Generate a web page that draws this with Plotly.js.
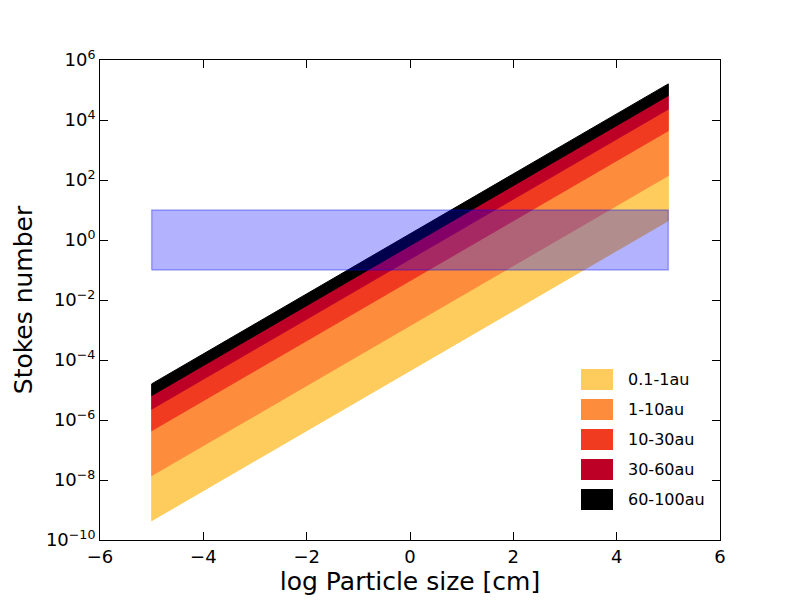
<!DOCTYPE html>
<html>
<head>
<meta charset="utf-8">
<script src="https://cdn.plot.ly/plotly-3.0.1.min.js"></script>
<style>
  html, body { margin: 0; padding: 0; background: #fff; }
  #chart { width: 800px; height: 600px; }
</style>
</head>
<body>
<div id="chart"></div>
<script>
// Particle size range (log10 cm) covered by each band
const sizeRange = [-5, 5];

// Stokes number band edges, read at the left (x=-5) and right (x=5) ends
const edgesLeft = [4.4e-10, 1.4e-8, 4.4e-7, 2.3e-6, 6.5e-6, 1.6e-5];
const edgesRight = [4.4e0, 1.4e2, 4.4e3, 2.3e4, 6.5e4, 1.6e5];

const bandNames = ['0.1-1au', '1-10au', '10-30au', '30-60au', '60-100au'];
const bandColors = ['#FECC5C', '#FD8D3C', '#F03B20', '#BD0026', '#000000'];

// Highlighted Stokes range
const stokesBox = [0.1, 10];

const yTickVals = [1e-10, 1e-8, 1e-6, 1e-4, 1e-2, 1e0, 1e2, 1e4, 1e6];
const yTickText = ['10<sup>\u221210</sup>', '10<sup>\u22128</sup>', '10<sup>\u22126</sup>',
  '10<sup>\u22124</sup>', '10<sup>\u22122</sup>', '10<sup>0</sup>', '10<sup>2</sup>',
  '10<sup>4</sup>', '10<sup>6</sup>'];

const FONT = 'DejaVu Sans, sans-serif';

const data = [];

// One filled polygon per radial band
bandNames.forEach((name, i) => {
  data.push({
    x: [sizeRange[0], sizeRange[1], sizeRange[1], sizeRange[0], sizeRange[0]],
    y: [edgesLeft[i], edgesRight[i], edgesRight[i + 1], edgesLeft[i + 1], edgesLeft[i]],
    type: 'scatter',
    mode: 'lines',
    fill: 'toself',
    fillcolor: bandColors[i],
    line: { color: bandColors[i], width: 1 },
    name: name,
    showlegend: false,
    hoverinfo: 'skip',
  });
});

// Translucent blue box over everything
data.push({
  x: [sizeRange[0], sizeRange[1], sizeRange[1], sizeRange[0], sizeRange[0]],
  y: [stokesBox[0], stokesBox[0], stokesBox[1], stokesBox[1], stokesBox[0]],
  type: 'scatter',
  mode: 'lines',
  fill: 'toself',
  fillcolor: 'rgba(0,0,255,0.3)',
  line: { color: 'rgba(0,0,255,0.3)', width: 1.5 },
  showlegend: false,
  hoverinfo: 'skip',
});

// Legend drawn by hand so the swatches match the large matplotlib patches
const shapes = [];
const annotations = [];
const legX0 = (581 - 100) / 620, legX1 = (613 - 100) / 620;
bandNames.forEach((name, i) => {
  const top = 369 + i * 30;
  shapes.push({
    type: 'rect', xref: 'paper', yref: 'paper',
    x0: legX0, x1: legX1,
    y0: (540 - top - 21) / 480, y1: (540 - top) / 480,
    fillcolor: bandColors[i], line: { width: 0 },
  });
  annotations.push({
    xref: 'paper', yref: 'paper',
    x: (626 - 100) / 620, y: (540 - top - 10.5) / 480,
    xanchor: 'left', yanchor: 'middle',
    text: name, showarrow: false,
    font: { family: FONT, size: 16, color: '#000' },
  });
});

const layout = {
  width: 800,
  height: 600,
  margin: { l: 100, r: 80, t: 60, b: 60 },
  paper_bgcolor: '#fff',
  plot_bgcolor: '#fff',
  showlegend: false,
  font: { family: FONT, color: '#000' },
  xaxis: {
    range: [-6, 6],
    dtick: 2,
    tick0: 0,
    showgrid: false,
    zeroline: false,
    showline: true,
    linecolor: '#000',
    linewidth: 1,
    mirror: 'ticks',
    ticks: 'inside',
    ticklen: 8,
    tickcolor: '#000',
    tickfont: { family: FONT, size: 18 },
    title: { text: 'log Particle size [cm]', font: { family: FONT, size: 25 }, standoff: 6 },
  },
  yaxis: {
    type: 'log',
    range: [-10, 6],
    tickvals: yTickVals,
    ticktext: yTickText,
    showgrid: false,
    zeroline: false,
    showline: true,
    linecolor: '#000',
    linewidth: 1,
    mirror: 'ticks',
    ticks: 'inside',
    ticklen: 8,
    tickcolor: '#000',
    tickfont: { family: FONT, size: 18 },
    title: { text: 'Stokes number', font: { family: FONT, size: 25 }, standoff: 6 },
  },
  shapes: shapes,
  annotations: annotations,
};

Plotly.newPlot('chart', data, layout, { displayModeBar: false, staticPlot: true });
</script>
</body>
</html>
